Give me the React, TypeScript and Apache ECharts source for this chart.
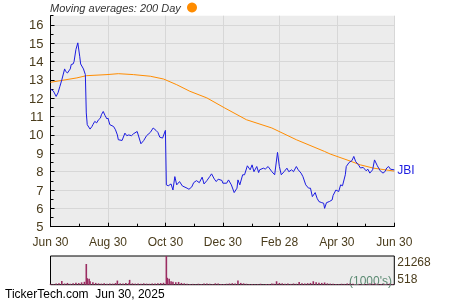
import React, { useEffect, useRef } from 'react';
import * as echarts from 'echarts';

// x values are days since Jun 30, 2024
const tickDays = [0, 61, 122, 183, 243, 304, 365];
const tickLabels = ['Jun 30', 'Aug 30', 'Oct 30', 'Dec 30', 'Feb 28', 'Apr 30', 'Jun 30'];
const minorTickDays = [30, 92, 153, 214, 273, 334];
const priceTicks = [5, 6, 7, 8, 9, 10, 11, 12, 13, 14, 15, 16];
const halfTicks = [5.5, 6.5, 7.5, 8.5, 9.5, 10.5, 11.5, 12.5, 13.5, 14.5, 15.5, 16.5];
const volumeLabels = [518, 21268];

const priceDays = [
  0, 3, 6, 8, 10, 12, 15, 16, 18, 21, 22, 24, 25, 27, 29, 31, 32, 35, 37, 38, 39, 42, 44, 45, 47, 49,
  51, 53, 54, 56, 58, 60, 61, 63, 67, 69, 71, 72, 76, 79, 81, 83, 86, 88, 92, 96, 99, 102, 106, 109,
  112, 114, 116, 119, 122, 123, 125, 128, 130, 132, 134, 137, 140, 145, 147, 150, 152, 155, 158, 161,
  163, 166, 169, 171, 174, 176, 178, 182, 183, 187, 189, 192, 195, 198, 199, 201, 204, 206, 209, 212,
  214, 216, 219, 221, 222, 226, 228, 231, 235, 238, 241, 243, 245, 248, 251, 253, 256, 258, 261, 263,
  266, 268, 271, 274, 276, 278, 281, 283, 285, 288, 290, 291, 293, 296, 299, 300, 303, 306, 308, 310,
  313, 314, 317, 320, 322, 324, 327, 329, 332, 335, 337, 339, 342, 344, 347, 350, 353, 355, 357, 359,
  361, 365,
];
const prices = [
  12.5, 12.4, 12.1, 12.3, 12.65, 13.0, 13.6, 13.47, 13.38, 13.6, 13.84, 13.87, 14.0, 14.66, 15.02, 14.29,
  13.87, 13.6, 13.29, 11.2, 10.56, 10.32, 10.46, 10.56, 10.74, 10.66,
  10.83, 10.92, 11.1, 11.28, 11.05, 10.87, 10.92, 10.56, 10.46, 10.28, 10.0, 9.74, 9.7, 10.1, 9.96, 10.0,
  9.96, 10.06, 10.19, 9.52, 9.7, 9.96, 10.14, 10.38,
  10.25, 10.14, 9.88, 9.83, 10.25, 7.28, 7.23, 7.33, 7.0, 7.73, 7.28, 7.46, 7.22, 7.1, 7.04, 7.17, 7.4,
  7.51, 7.4, 7.7,
  7.33, 7.51, 7.73, 7.88, 7.59, 7.46, 7.59, 7.52, 7.37, 7.37, 7.55, 7.28, 6.86, 7.1, 7.55, 7.28, 7.83,
  7.83, 8.32, 8.1,
  8.37, 8.0, 8.28, 7.95, 8.1, 8.19, 8.14, 8.28, 8.0, 7.83, 9.05, 8.28, 7.83, 8.0, 8.19, 8.0, 8.1, 8.0,
  8.28, 8.1,
  7.92, 7.73, 7.28, 7.1, 7.1, 6.64, 6.86, 6.55, 6.37, 6.31, 6.28, 6.0, 6.31, 6.37, 6.46, 6.7, 7.0, 6.92,
  7.28, 7.23,
  7.83, 8.28, 8.5, 8.6, 8.83, 8.55, 8.37, 8.2, 8.23, 8.05, 8.13, 7.92, 8.1, 8.64, 8.32, 8.05, 7.92, 8.0,
  8.2, 8.28,
  8.13, 8.1,
];

const maDays = [0, 28, 38, 60, 72, 88, 106, 120, 134, 148, 166, 185, 208, 235, 261, 291, 297, 318, 329, 343, 365];
const maValues = [12.87, 13.11, 13.23, 13.29, 13.34, 13.29, 13.2, 13.05, 12.74, 12.38, 12.02, 11.47, 10.83,
  10.38, 9.74, 9.1, 8.96, 8.58, 8.37, 8.19, 8.03];

const volDays = [
  0, 3, 6, 9, 12, 15, 18, 21, 24, 27, 30, 33, 36, 38, 39, 41, 42, 45, 48, 51, 54, 57, 60, 63, 66, 69, 71,
  74, 77, 80, 83, 84, 87, 90, 93, 96, 99, 102, 105, 108, 111, 114, 117, 120, 123, 124, 126, 128, 130, 133,
  136, 139, 142, 145, 148, 151, 154, 157, 160, 163, 166, 169, 172, 175, 178, 181, 184, 187, 190, 193, 196,
  199, 202, 205, 208, 211, 214, 217, 220, 223, 226, 229, 232, 235, 237, 240, 243, 246, 249, 252, 255, 258,
  261, 264, 267, 270, 273, 276, 279, 282, 285, 288, 291, 294, 297, 300, 303, 306, 309, 312, 315, 318, 321,
  324, 327, 330, 333, 336, 339, 342, 345, 348, 351, 354, 357, 360, 363,
];
const volumes = [
  1100, 900, 1300, 1500, 3200, 1400, 1800, 1200, 1600, 2000, 1700, 2200, 2600, 15500, 5200, 4800, 3000,
  2200, 1800, 1500, 1300, 1600, 1200, 1400, 1300, 1700, 3500,
  1500, 1400, 1800, 1600, 4000, 1500, 1300, 1400, 1200, 1500, 1300, 1200, 1400, 1300, 1500, 1700, 1900,
  21268, 5500, 4800, 3000, 2600, 2300,
  2500, 1800, 1500, 1200, 1000, 1100, 900, 1200, 1000, 1400, 1300, 1200, 1000, 1500, 1300, 1100, 1000,
  1200, 1400, 1600, 1300,
  3500, 1800, 1500, 1200, 1000, 1100, 900, 1000, 1200, 800, 1000, 1100, 1300, 1200, 3000, 1800, 1500,
  1200, 1300, 1100, 1400,
  1200, 2500, 1500, 1400, 1600, 1800, 3000, 2200, 2000, 1800, 2100, 1500, 1300, 1200, 1100, 1000, 1200,
  1100, 1400, 1300, 1200,
  1000, 1100, 900, 1000, 1100, 1300, 1200, 1400, 1100, 1000, 1200, 1100, 1300, 1000,
];

const FONT = 'Liberation Sans, Arial, sans-serif';
const LABEL_COLOR = '#4a3c1c';

export default function App() {
  const ref = useRef<HTMLDivElement>(null);
  useEffect(() => {
    if (!ref.current) return;
    const chart = echarts.init(ref.current, undefined, { renderer: 'svg' });
    const labelFor = (v: number) => {
      const i = tickDays.indexOf(Math.round(v));
      return i >= 0 ? tickLabels[i] : '';
    };
    chart.setOption({
      animation: false,
      textStyle: { fontFamily: FONT },
      grid: [
        { left: 50.5, right: 55.7, top: 15.7, height: 211, show: true, backgroundColor: '#ececec', borderWidth: 0 },
        { left: 50.5, right: 55.7, top: 256, height: 28.7, show: true, backgroundColor: '#ececec', borderWidth: 1, borderColor: '#000' },
      ],
      xAxis: [
        {
          type: 'value', gridIndex: 0, min: 0, max: 365, position: 'bottom',
          axisLine: { show: true, lineStyle: { color: '#000', width: 1 } },
          axisTick: { show: true, inside: true, length: 4, customValues: tickDays, lineStyle: { color: '#000' } },
          axisLabel: { customValues: tickDays, formatter: labelFor, color: LABEL_COLOR, fontSize: 12, margin: 9, fontFamily: FONT },
          splitLine: { show: true, lineStyle: { color: '#d7d7d7', width: 1 } },
        },
        {
          type: 'value', gridIndex: 0, min: 0, max: 365, position: 'bottom',
          axisLine: { show: false },
          axisTick: { show: true, inside: true, length: 3, customValues: minorTickDays, lineStyle: { color: '#000' } },
          axisLabel: { show: false },
          splitLine: { show: false },
        },
        { type: 'value', gridIndex: 1, min: 0, max: 365, show: false },
      ],
      yAxis: [
        {
          type: 'value', gridIndex: 0, min: 5, max: 16.5, position: 'left',
          axisLine: { show: true, lineStyle: { color: '#000', width: 1 } },
          axisTick: { show: true, inside: true, length: 4, customValues: priceTicks, lineStyle: { color: '#000' } },
          axisLabel: { customValues: priceTicks, color: LABEL_COLOR, fontSize: 13, margin: 7, fontFamily: FONT },
          splitLine: { show: true, lineStyle: { color: '#d7d7d7', width: 1 } },
        },
        {
          type: 'value', gridIndex: 0, min: 5, max: 16.5, position: 'left',
          axisLine: { show: false },
          axisTick: { show: true, inside: true, length: 3, customValues: halfTicks, lineStyle: { color: '#000' } },
          axisLabel: { show: false },
          splitLine: { show: false },
        },
        {
          type: 'value', gridIndex: 1, min: 518, max: 21268, position: 'right',
          axisLine: { show: false },
          axisTick: { show: false },
          axisLabel: {
            customValues: volumeLabels, formatter: (v: number) => String(Math.round(v)),
            color: LABEL_COLOR, fontSize: 12, margin: 3, fontFamily: FONT,
            verticalAlignMinLabel: 'bottom', verticalAlignMaxLabel: 'top',
          },
          splitLine: { show: false },
        },
      ],
      series: [
        {
          type: 'bar', xAxisIndex: 2, yAxisIndex: 2, barWidth: 1.6,
          itemStyle: { color: '#9b2d62' },
          data: volDays.map((d, i) => [d, volumes[i]]),
          clip: true,
        },
        {
          type: 'line', xAxisIndex: 0, yAxisIndex: 0, showSymbol: false, symbol: 'none',
          lineStyle: { color: '#ff8c00', width: 1 },
          data: maDays.map((d, i) => [d, maValues[i]]),
        },
        {
          type: 'line', xAxisIndex: 0, yAxisIndex: 0, showSymbol: false, symbol: 'none',
          lineStyle: { color: '#1c1ce0', width: 1 },
          data: priceDays.map((d, i) => [d, prices[i]]),
          endLabel: { show: true, formatter: 'JBI', color: '#1c1ce0', fontSize: 12, distance: 3, fontFamily: FONT },
        },
      ],
      graphic: [
        {
          type: 'text', left: 50, top: 2,
          style: { text: 'Moving averages: 200 Day', font: `italic 11px ${FONT}`, fill: '#333333' },
        },
        { type: 'circle', shape: { cx: 192, cy: 7.5, r: 5 }, style: { fill: '#ff8c00' } },
        {
          type: 'text', x: 349, y: 281, style: { text: "(1000's)", font: `12px ${FONT}`, fill: '#5b8a72', verticalAlign: 'middle' },
        },
        {
          type: 'text', x: 5, y: 294, style: { text: 'TickerTech.com  Jun 30, 2025', font: `12px ${FONT}`, fill: '#000', verticalAlign: 'middle' },
        },
      ],
    });
    return () => chart.dispose();
  }, []);
  return <div ref={ref} style={{ position: 'fixed', left: 0, top: 0, width: 450, height: 300 }} />;
}
